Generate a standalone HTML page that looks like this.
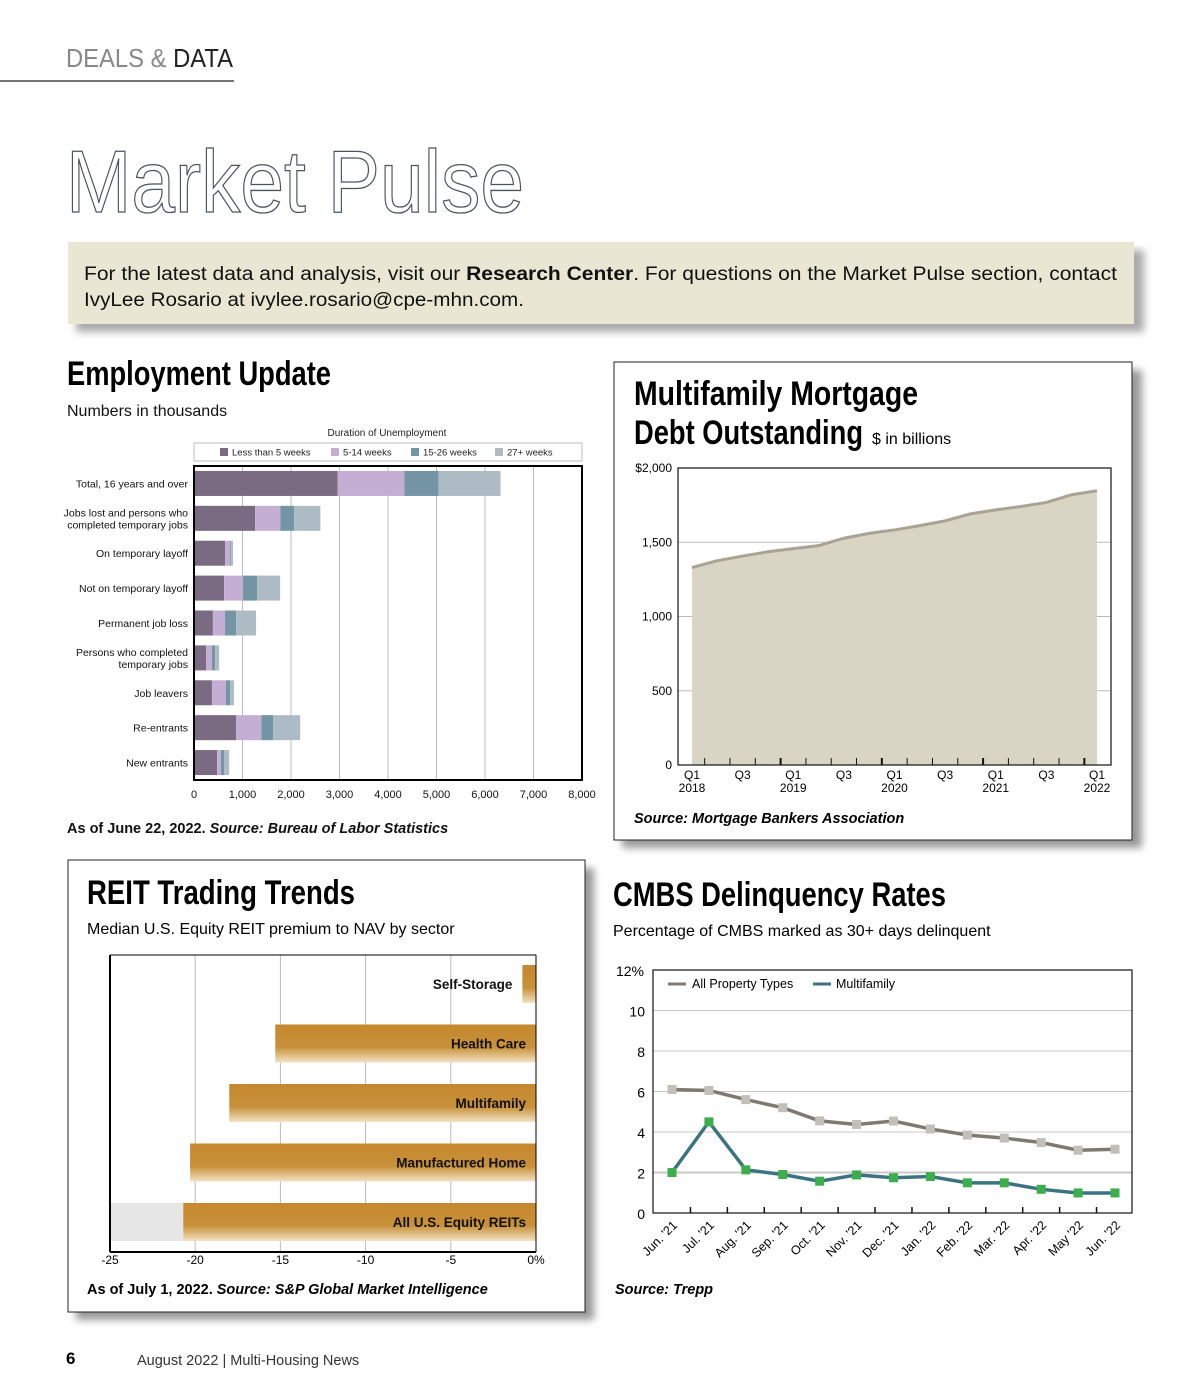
<!DOCTYPE html>
<html><head><meta charset="utf-8"><style>
html,body{margin:0;padding:0;background:#fff;}
svg{display:block;font-family:"Liberation Sans",sans-serif;}
.n{font-family:"Liberation Sans Narrow","Liberation Sans",sans-serif;}
</style></head><body>
<svg id="page" width="1200" height="1400" viewBox="0 0 1200 1400" xmlns="http://www.w3.org/2000/svg">
<defs>
<linearGradient id="gold" x1="0" y1="0" x2="0" y2="1">
<stop offset="0" stop-color="#c5882e"/><stop offset="0.6" stop-color="#c8913a"/><stop offset="1" stop-color="#f3e2c4"/>
</linearGradient>
<filter id="sh" x="-5%" y="-5%" width="115%" height="115%"><feGaussianBlur stdDeviation="4"/></filter>
</defs>
<!-- header -->
<g>
<text x="66" y="67" font-size="26" fill="#888" textLength="167" lengthAdjust="spacingAndGlyphs">DEALS &amp; <tspan fill="#222">DATA</tspan></text>
<line x1="0" y1="81" x2="234" y2="81" stroke="#222" stroke-width="1.2"/>
</g>
<text x="66" y="212" font-size="88" fill="#fff" stroke="#4a5560" stroke-width="1.3" textLength="458" lengthAdjust="spacingAndGlyphs">Market Pulse</text>
<!-- info box -->
<g>
<rect x="76" y="250" width="1068" height="82" fill="#aaa" filter="url(#sh)"/>
<rect x="68" y="242" width="1066" height="82" fill="#e9e7d3"/>
<text x="84" y="280" font-size="19" fill="#111" textLength="1033" lengthAdjust="spacingAndGlyphs">For the latest data and analysis, visit our <tspan font-weight="bold">Research Center</tspan>. For questions on the Market Pulse section, contact</text>
<text x="84" y="306" font-size="19" fill="#111" textLength="440" lengthAdjust="spacingAndGlyphs">IvyLee Rosario at <tspan>ivylee.rosario@cpe-mhn.com</tspan>.</text>
</g>

<!-- Employment -->
<g id="emp">
<text class="n" x="67" y="385" font-size="34" font-weight="bold" textLength="264" lengthAdjust="spacingAndGlyphs">Employment Update</text>
<text x="67" y="416" font-size="16" fill="#111">Numbers in thousands</text>
<text x="387" y="436" font-size="10" text-anchor="middle" fill="#222">Duration of Unemployment</text>
<rect x="194" y="443" width="388" height="18" fill="#fff" stroke="#bbb"/>
<text x="67" y="833" font-size="14.5" font-weight="bold" font-style="italic" fill="#111"><tspan font-style="normal">As of June 22, 2022.</tspan> Source: Bureau of Labor Statistics</text>
</g>

<!-- Mortgage -->
<g id="mtg">
<rect x="622" y="370" width="520" height="478" fill="#999" filter="url(#sh)"/>
<rect x="614" y="362" width="518" height="478" fill="#fff" stroke="#222" stroke-width="1"/>
<text class="n" x="634" y="405" font-size="34" font-weight="bold" textLength="284" lengthAdjust="spacingAndGlyphs">Multifamily Mortgage</text>
<text class="n" x="634" y="444" font-size="34" font-weight="bold" textLength="229" lengthAdjust="spacingAndGlyphs">Debt Outstanding</text>
<text x="872" y="444" font-size="16">$ in billions</text>
<text x="634" y="823" font-size="14.5" font-weight="bold" font-style="italic">Source: Mortgage Bankers Association</text>
</g>

<!-- REIT -->
<g id="reit">
<rect x="76" y="868" width="518" height="452" fill="#999" filter="url(#sh)"/>
<rect x="68" y="860" width="517" height="452" fill="#fff" stroke="#222" stroke-width="1"/>
<text class="n" x="87" y="904" font-size="34" font-weight="bold" textLength="268" lengthAdjust="spacingAndGlyphs">REIT Trading Trends</text>
<text x="87" y="934" font-size="16">Median U.S. Equity REIT premium to NAV by sector</text>
<text x="87" y="1294" font-size="14.5" font-weight="bold" font-style="italic"><tspan font-style="normal">As of July 1, 2022.</tspan> Source: S&amp;P Global Market Intelligence</text>
</g>

<!-- CMBS -->
<g id="cmbs">
<text class="n" x="613" y="906" font-size="34" font-weight="bold" textLength="333" lengthAdjust="spacingAndGlyphs">CMBS Delinquency Rates</text>
<text x="613" y="936" font-size="16">Percentage of CMBS marked as 30+ days delinquent</text>
<text x="615" y="1294" font-size="14.5" font-weight="bold" font-style="italic">Source: Trepp</text>
</g>

<g>
<text x="66" y="1364" font-size="17" font-weight="bold">6</text>
<text x="137" y="1365" font-size="14.5" fill="#333">August 2022  |  Multi-Housing News</text>
</g>
</svg>
<script>
const NS='http://www.w3.org/2000/svg';
function mk(parent,tag,attrs,txt){const e=document.createElementNS(NS,tag);for(const k in attrs)e.setAttribute(k,attrs[k]);if(txt!==undefined)e.textContent=txt;parent.appendChild(e);return e;}

// ---------- Employment data ----------
const empCategories=[["Total, 16 years and over"],["Jobs lost and persons who","completed temporary jobs"],["On temporary layoff"],["Not on temporary layoff"],["Permanent job loss"],["Persons who completed","temporary jobs"],["Job leavers"],["Re-entrants"],["New entrants"]];
const empSeriesNames=["Less than 5 weeks","5-14 weeks","15-26 weeks","27+ weeks"];
const empLess5=[2960,1260,640,620,390,250,370,870,477];
const emp5to14=[1380,520,107,390,250,120,290,520,78];
const emp15to26=[700,285,21,290,228,64,86,240,64];
const emp27plus=[1280,540,36,476,412,85,78,560,106];
const empTicks=[0,1000,2000,3000,4000,5000,6000,7000,8000];
const empTickLabels=["0","1,000","2,000","3,000","4,000","5,000","6,000","7,000","8,000"];

(function(){
 const g=document.getElementById('emp');
 const colors=["#7a6a82","#c4aed3","#7495a4","#adbcc4"];
 const x0=194,x1=582,y0=466,y1=780,maxV=8000;
 const xs=v=>x0+(v/maxV)*(x1-x0);
 const n=empCategories.length,band=(y1-y0)/n;
 const yc=i=>y0+band*(i+0.5);
 empTicks.forEach((t,i)=>{
  if(i>0&&i<empTicks.length-1){const l=mk(g,'line',{x1:xs(t),x2:xs(t),y1:y0,y2:y1,stroke:'#bbb','stroke-width':1});
  
  }
  const tx=mk(g,'text',{x:xs(t),y:798,'font-size':11,'text-anchor':'middle',fill:'#111'},empTickLabels[i]);
  
  
 });
 const series=[empLess5,emp5to14,emp15to26,emp27plus];
 for(let i=0;i<n;i++){
  let acc=0;
  series.forEach((s,j)=>{
   const r=mk(g,'rect',{x:xs(acc),y:yc(i)-12.5,width:xs(acc+s[i])-xs(acc),height:25,fill:colors[j]});
   
   
   acc+=s[i];
  });
  const lines=empCategories[i];
  lines.forEach((ln,k)=>{
   const t=mk(g,'text',{x:188,y:yc(i)+4+(k-(lines.length-1)/2)*12,'font-size':10.5,'text-anchor':'end',fill:'#111','class':'n'},ln);
   
   
  });
 }
 mk(g,'rect',{x:x0,y:y0,width:x1-x0,height:y1-y0,fill:'none',stroke:'#000','stroke-width':2});
 const lx=[220,331,411,495];
 empSeriesNames.forEach((nm,j)=>{
  const sq=mk(g,'rect',{x:lx[j],y:448,width:8,height:8,fill:colors[j]});
  
  
  const t=mk(g,'text',{x:lx[j]+12,y:455.5,'font-size':9.5,fill:'#222'},nm);
  
  
 });
})();

// ---------- Mortgage data ----------
const mtgValues=[1330,1376,1407,1436,1457,1477,1527,1560,1583,1612,1644,1691,1718,1741,1768,1820,1847];
const mtgYTicks=[0,500,1000,1500,2000];
const mtgYLabels=["0","500","1,000","1,500","$2,000"];
const mtgXLabels=[["Q1","2018"],["Q3"],["Q1","2019"],["Q3"],["Q1","2020"],["Q3"],["Q1","2021"],["Q3"],["Q1","2022"]];

(function(){
 const g=document.getElementById('mtg');
 const x0=678,x1=1111,y0=468,y1=765,p0=692,p1=1097;
 const ys=v=>y1-(v/2000)*(y1-y0);
 const xs=i=>p0+i*(p1-p0)/(mtgValues.length-1);
 mk(g,'rect',{x:x0,y:y0,width:x1-x0,height:y1-y0,fill:'#fff'});
 mtgYTicks.forEach((t,i)=>{
  if(i>0&&i<mtgYTicks.length-1){const l=mk(g,'line',{x1:x0,x2:x1,y1:ys(t),y2:ys(t),stroke:'#bbb'});
  
  }
  const tx=mk(g,'text',{x:672,y:ys(t)+4,'font-size':12,'text-anchor':'end'},mtgYLabels[i]);
  
  
 });
 let d='M'+xs(0)+','+ys(0);
 mtgValues.forEach((v,i)=>{d+=' L'+xs(i)+','+ys(v);});
 d+=' L'+xs(mtgValues.length-1)+','+ys(0)+' Z';
 const a=mk(g,'path',{d:d,fill:'#d8d5c5'});
 
 
 const ln=mk(g,'polyline',{points:mtgValues.map((v,i)=>xs(i)+','+ys(v)).join(' '),fill:'none',stroke:'#a9a393','stroke-width':3});
 
 
 mk(g,'rect',{x:x0,y:y0,width:x1-x0,height:y1-y0,fill:'none',stroke:'#111','stroke-width':1.2});
 for(let i=0;i<mtgValues.length-1;i++){
  const x=(xs(i)+xs(i+1))/2;
  const t=mk(g,'line',{x1:x,x2:x,y1:y1,y2:y1-7,stroke:'#111','stroke-width':(i%4===3)?2:1});
  
  
 }
 mtgXLabels.forEach((lab,k)=>{
  lab.forEach((s,j)=>{
   const t=mk(g,'text',{x:xs(k*2),y:779+j*13,'font-size':12,'text-anchor':'middle'},s);
   
   
  });
 });
})();

// ---------- REIT data ----------
const reitSectors=["Self-Storage","Health Care","Multifamily","Manufactured Home","All U.S. Equity REITs"];
const reitValues=[-0.8,-15.3,-18.0,-20.3,-20.7];
const reitTicks=[-25,-20,-15,-10,-5,0];
const reitTickLabels=["-25","-20","-15","-10","-5","0%"];

(function(){
 const g=document.getElementById('reit');
 const x0=110,x1=536,y0=955,y1=1252;
 const xs=v=>x0+(v+25)/25*(x1-x0);
 reitTicks.forEach((t,i)=>{
  if(i>0&&i<reitTicks.length-1){const l=mk(g,'line',{x1:xs(t),x2:xs(t),y1:y0,y2:y1,stroke:'#bbb'});
  
  }
  const tx=mk(g,'text',{x:xs(t),y:1264,'font-size':12,'text-anchor':'middle','class':'n'},reitTickLabels[i]);
  
  
 });
 const step=59.5;
 const last=reitSectors.length-1;
 const gb=mk(g,'rect',{x:x0,y:965+last*step,width:xs(reitValues[last])-x0,height:38,fill:'#e6e6e6'});
 
 
 reitSectors.forEach((s,i)=>{
  const y=965+i*step;
  const r=mk(g,'rect',{x:xs(reitValues[i]),y:y,width:xs(0)-xs(reitValues[i]),height:38,fill:'url(#gold)'});
  
  
  const inside=(xs(0)-xs(reitValues[i]))>140;
  const t=mk(g,'text',{x:inside?526:xs(reitValues[i])-10,y:y+24,'font-size':13.5,'font-weight':'bold','text-anchor':'end','class':'n',fill:'#111'},s);
  
  
 });
 mk(g,'line',{x1:x0,x2:x0,y1:y0,y2:y1,stroke:'#000','stroke-width':2});
 mk(g,'line',{x1:x0,x2:x1,y1:y1,y2:y1,stroke:'#000','stroke-width':2});
 mk(g,'line',{x1:x0,x2:x1,y1:y0,y2:y0,stroke:'#000','stroke-width':1});
 mk(g,'line',{x1:x1,x2:x1,y1:y0,y2:y1,stroke:'#000','stroke-width':1});
})();

// ---------- CMBS data ----------
const cmbsMonths=["Jun. '21","Jul. '21","Aug. '21","Sep. '21","Oct. '21","Nov. '21","Dec. '21","Jan. '22","Feb. '22","Mar. '22","Apr. '22","May '22","Jun. '22"];
const cmbsAll=[6.1,6.05,5.6,5.2,4.55,4.37,4.54,4.15,3.85,3.7,3.48,3.1,3.15];
const cmbsMulti=[2.0,4.5,2.13,1.9,1.57,1.88,1.74,1.8,1.49,1.49,1.17,0.99,0.99];
const cmbsYTicks=[0,2,4,6,8,10,12];
const cmbsYLabels=["0","2","4","6","8","10","12%"];

(function(){
 const g=document.getElementById('cmbs');
 const x0=653,x1=1132,y0=970,y1=1213,p0=672,p1=1115;
 const ys=v=>y1-v/12*(y1-y0);
 const xs=i=>p0+i*(p1-p0)/(cmbsMonths.length-1);
 cmbsYTicks.forEach((t,i)=>{
  if(i>0&&i<cmbsYTicks.length-1){const l=mk(g,'line',{x1:x0,x2:x1,y1:ys(t),y2:ys(t),stroke:'#c8c8c8','stroke-width':t===2?2:1});
  
  }
  const tx=mk(g,'text',{x:i===cmbsYTicks.length-1?644:645,y:ys(t)+6,'font-size':14,'text-anchor':'end'},cmbsYLabels[i]);
  
  
 });
 mk(g,'rect',{x:x0,y:y0,width:x1-x0,height:y1-y0,fill:'none',stroke:'#111','stroke-width':1.2});
 for(let i=0;i<cmbsMonths.length-1;i++){
  const x=(xs(i)+xs(i+1))/2;
  const t=mk(g,'line',{x1:x,x2:x,y1:y1,y2:y1-6,stroke:'#111','stroke-width':1.5});
  
  
 }
 const la=mk(g,'polyline',{points:cmbsAll.map((v,i)=>xs(i)+','+ys(v)).join(' '),fill:'none',stroke:'#7f7a70','stroke-width':3.5});
 
 
 const lm=mk(g,'polyline',{points:cmbsMulti.map((v,i)=>xs(i)+','+ys(v)).join(' '),fill:'none',stroke:'#3b7480','stroke-width':3.5});
 
 
 cmbsAll.forEach((v,i)=>{
  const m=mk(g,'rect',{x:xs(i)-4.5,y:ys(v)-4.5,width:9,height:9,fill:'#c1bfb8'});
  
  
 });
 cmbsMulti.forEach((v,i)=>{
  const m=mk(g,'rect',{x:xs(i)-4.5,y:ys(v)-4.5,width:9,height:9,fill:'#3cae4c'});
  
  
 });
 cmbsMonths.forEach((s,i)=>{
  const t=mk(g,'text',{x:xs(i)+6,y:1226,'font-size':12.5,'text-anchor':'end',transform:'rotate(-45 '+(xs(i)+6)+' 1226)'},s);
  
  
 });
 // legend
 const l1=mk(g,'line',{x1:668,x2:686,y1:984,y2:984,stroke:'#7f7a70','stroke-width':3});
 
 
 const t1=mk(g,'text',{x:692,y:988,'font-size':12.5},'All Property Types');
 
 
 const l2=mk(g,'line',{x1:813,x2:831,y1:984,y2:984,stroke:'#3b7480','stroke-width':3});
 
 
 const t2=mk(g,'text',{x:836,y:988,'font-size':12.5},'Multifamily');
 
 
})();
</script>
</body></html>
